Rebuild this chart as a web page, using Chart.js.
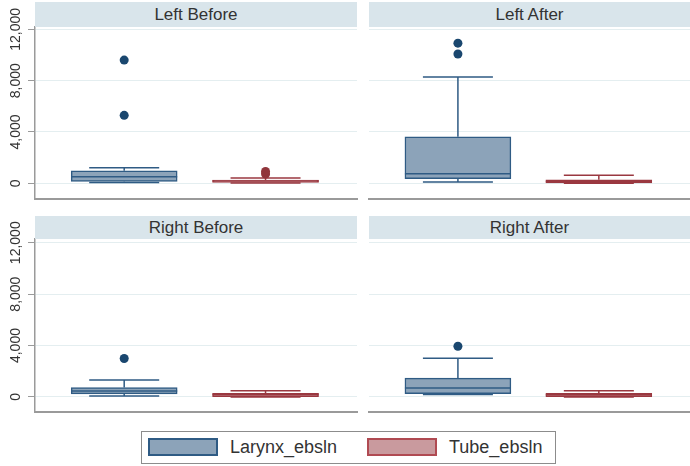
<!DOCTYPE html>
<html>
<head>
<meta charset="utf-8">
<script src="https://cdn.jsdelivr.net/npm/chart.js@4.4.1/dist/chart.umd.min.js"></script>
<style>
  body { margin: 0; background: #fff; font-family: "Liberation Sans", Arial, sans-serif; }
  #page { position: relative; width: 690px; height: 466px; overflow: hidden; }
  .panel { position: absolute; }
  .strip { position: absolute; background: #d9e5eb; color: #333; font-size: 17px; text-align: center; z-index: 2; }
  .legend { position: absolute; left: 141px; top: 431px; width: 413px; height: 31px; border: 1.5px solid #8c8c8c; background: #fff; }
  .swatch { position: absolute; top: 6px; width: 66px; height: 14px; border: 2px solid; }
  .legtext { position: absolute; top: 5px; font-size: 18px; color: #333; line-height: 21px; }
</style>
</head>
<body>
<div id="page"></div>
<script>
// data
const categories = ['Larynx_ebsln', 'Tube_ebsln'];
const panelTitles = ['Left Before', 'Left After', 'Right Before', 'Right After'];
// [lower whisker, q1, median, q3, upper whisker] per panel
const larynxStats = [
  [60, 150, 520, 980, 1220],
  [100, 360, 750, 3630, 8290],
  [80, 240, 470, 730, 1320],
  [200, 260, 700, 1460, 3020]
];
const tubeStats = [
  [20, 80, 180, 260, 420],
  [0, 40, 150, 270, 640],
  [0, 30, 200, 290, 480],
  [0, 20, 180, 290, 490]
];
const larynxOutliers = [[5300, 9600], [10080, 10920], [2990], [3950]];
const tubeOutliers = [[720, 930], [], [], []];
const yTicks = [0, 4000, 8000, 12000];

const BLUE_FILL = '#8ca3b9';
const BLUE_LINE = '#2f5b84';
const BLUE_DOT = '#1a476f';
const RED_FILL = '#c99a9e';
const RED_LINE = '#9a3840';
const RED_DOT = '#90353b';
const GRID = '#e4eef0';
const AXIS = '#9a9a9a';
const FONT = '"Liberation Sans", Arial, sans-serif';

// panel placement (page pixels)
const layout = [
  { left: 0,   top: 0,   w: 358, h: 201, showY: true,  strip: [35, 2, 322, 25],  yMin: -1220, yMax: 12180 },
  { left: 358, top: 0,   w: 332, h: 201, showY: false, strip: [369, 2, 321, 25], yMin: -1220, yMax: 12180 },
  { left: 0,   top: 212, w: 358, h: 202, showY: true,  strip: [35, 216, 322, 23], yMin: -1170, yMax: 12290 },
  { left: 358, top: 212, w: 332, h: 202, showY: false, strip: [369, 216, 321, 23], yMin: -1170, yMax: 12290 }
];

// whiskers, caps and medians drawn from the chart scales
const boxWhiskers = {
  id: 'boxWhiskers',
  beforeDatasetsDraw(chart) {
    const { ctx, scales: { x, y } } = chart;
    const stats = chart.config.options.boxStats;
    ctx.save();
    stats.forEach((s, i) => {
      const cx = x.getPixelForValue(i);
      const capHalf = 35;
      ctx.strokeStyle = i === 0 ? BLUE_LINE : RED_LINE;
      ctx.lineWidth = 1.5;
      ctx.beginPath();
      ctx.moveTo(cx, y.getPixelForValue(s[3]));
      ctx.lineTo(cx, y.getPixelForValue(s[4]));
      ctx.moveTo(cx, y.getPixelForValue(s[1]));
      ctx.lineTo(cx, y.getPixelForValue(s[0]));
      ctx.moveTo(cx - capHalf, y.getPixelForValue(s[4]));
      ctx.lineTo(cx + capHalf, y.getPixelForValue(s[4]));
      ctx.moveTo(cx - capHalf, y.getPixelForValue(s[0]));
      ctx.lineTo(cx + capHalf, y.getPixelForValue(s[0]));
      ctx.stroke();
    });
    ctx.restore();
  },
  afterDatasetsDraw(chart) {
    const { ctx, scales: { x, y } } = chart;
    const stats = chart.config.options.boxStats;
    ctx.save();
    stats.forEach((s, i) => {
      const cx = x.getPixelForValue(i);
      ctx.strokeStyle = i === 0 ? BLUE_LINE : RED_LINE;
      ctx.lineWidth = 1.5;
      ctx.beginPath();
      ctx.moveTo(cx - 53, y.getPixelForValue(s[2]));
      ctx.lineTo(cx + 53, y.getPixelForValue(s[2]));
      ctx.stroke();
    });
    ctx.restore();
  }
};

const page = document.getElementById('page');

panelTitles.forEach((title, p) => {
  const L = layout[p];
  const strip = document.createElement('div');
  strip.className = 'strip';
  strip.style.left = L.strip[0] + 'px';
  strip.style.top = L.strip[1] + 'px';
  strip.style.width = L.strip[2] + 'px';
  strip.style.height = L.strip[3] + 'px';
  strip.style.lineHeight = L.strip[3] + 'px';
  strip.textContent = title;
  page.appendChild(strip);

  const wrap = document.createElement('div');
  wrap.className = 'panel';
  wrap.style.left = L.left + 'px';
  wrap.style.top = L.top + 'px';
  const canvas = document.createElement('canvas');
  canvas.width = L.w;
  canvas.height = L.h;
  wrap.appendChild(canvas);
  page.appendChild(wrap);

  const lar = larynxStats[p];
  const tub = tubeStats[p];

  new Chart(canvas.getContext('2d'), {
    type: 'bar',
    data: {
      datasets: [
        {
          label: categories[0],
          data: [{ x: 0, y: [lar[1], lar[3]] }],
          backgroundColor: BLUE_FILL, borderColor: BLUE_LINE, borderWidth: 1.5,
          borderSkipped: false, barThickness: 106, grouped: false
        },
        {
          label: categories[1],
          data: [{ x: 1, y: [tub[1], tub[3]] }],
          backgroundColor: RED_FILL, borderColor: RED_LINE, borderWidth: 1.5,
          borderSkipped: false, barThickness: 106, grouped: false
        },
        {
          type: 'scatter',
          data: larynxOutliers[p].map(v => ({ x: 0, y: v })),
          backgroundColor: BLUE_DOT, borderWidth: 0, pointRadius: 4.5
        },
        {
          type: 'scatter',
          data: tubeOutliers[p].map(v => ({ x: 1, y: v })),
          backgroundColor: RED_DOT, borderWidth: 0, pointRadius: 4.5
        }
      ]
    },
    options: {
      boxStats: [lar, tub],
      responsive: false,
      animation: false,
      events: [],
      layout: { autoPadding: false, padding: { top: 27, bottom: 2, left: L.showY ? 0 : 11, right: L.showY ? 1 : 0 } },
      plugins: { legend: { display: false }, tooltip: { enabled: false }, title: { display: false } },
      scales: {
        x: {
          type: 'linear', min: -0.631, max: 1.647, offset: false,
          ticks: { display: false },
          grid: { display: false, drawTicks: false },
          border: { display: true, color: AXIS, width: 2 },
          afterFit(s) { s.height = 0; s.paddingLeft = 0; s.paddingRight = 0; }
        },
        y: {
          min: L.yMin, max: L.yMax,
          afterBuildTicks(s) { s.ticks = yTicks.map(v => ({ value: v })); },
          grid: { color: GRID, lineWidth: 1, tickColor: AXIS, tickLength: 7, drawTicks: L.showY },
          border: { display: L.showY, color: AXIS, width: 1.5 },
          ticks: {
            display: L.showY, minRotation: 90, maxRotation: 90, crossAlign: 'center',
            padding: -9.9, color: '#333',
            font: { family: FONT, size: 14 },
            callback: v => v.toLocaleString('en-US')
          },
          afterFit(s) { s.width = L.showY ? 35 : 0; s.paddingTop = 0; s.paddingBottom = 0; }
        }
      }
    },
    plugins: [boxWhiskers]
  });
});

// legend
const legend = document.createElement('div');
legend.className = 'legend';
legend.innerHTML =
  '<div class="swatch" style="left:6px;background:' + BLUE_FILL + ';border-color:' + BLUE_LINE + '"></div>' +
  '<div class="legtext" style="left:88px">' + categories[0] + '</div>' +
  '<div class="swatch" style="left:225px;background:' + RED_FILL + ';border-color:#b04a52"></div>' +
  '<div class="legtext" style="left:307px">' + categories[1] + '</div>';
page.appendChild(legend);
</script>
</body>
</html>
